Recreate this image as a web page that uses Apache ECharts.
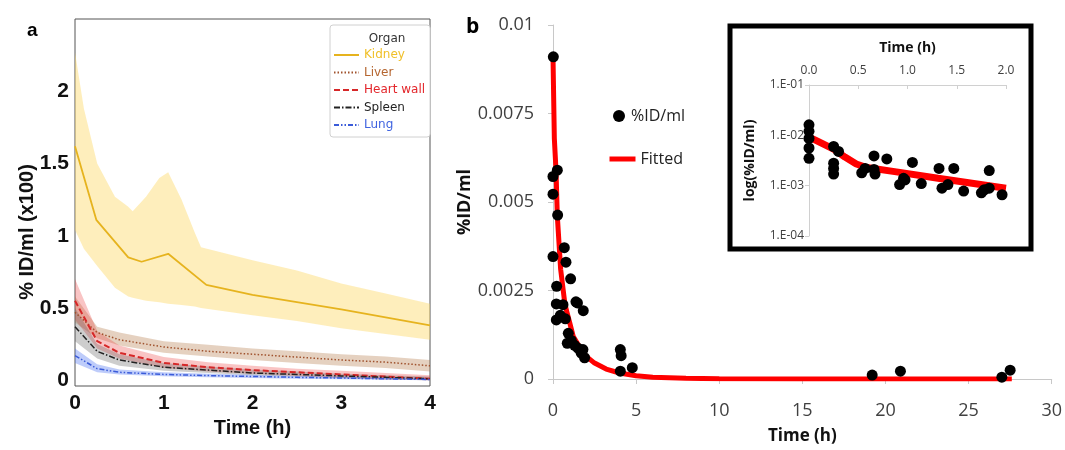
<!DOCTYPE html>
<html>
<head>
<meta charset="utf-8">
<script src="https://cdn.jsdelivr.net/npm/echarts@6/dist/echarts.min.js"></script>
<style>
  html, body { margin: 0; padding: 0; background: #fff; }
  #chart { width: 1065px; height: 450px; }
</style>
</head>
<body>
<div id="chart"></div>
<script>
// panel a - organ curves (time in h, %ID/ml x100)
var aTime = [0, 0.25, 0.5, 1, 1.5, 2, 2.5, 3, 3.5, 4];
var kidneyTime = [0, 0.24, 0.6, 0.75, 1.05, 1.48, 2, 2.5, 3, 3.5, 4];
var kidneyMean = [1.62, 1.11, 0.85, 0.82, 0.875, 0.66, 0.59, 0.54, 0.49, 0.435, 0.38];
var kidneyBandTime = [0, 0.1, 0.25, 0.45, 0.6, 0.65, 0.8, 0.95, 1.05, 1.2, 1.35, 1.42, 2, 2.5, 3, 3.5, 4];
var kidneyHi = [2.27, 1.88, 1.5, 1.27, 1.2, 1.17, 1.27, 1.4, 1.44, 1.25, 1.02, 0.92, 0.83, 0.76, 0.67, 0.6, 0.53];
var kidneyLo = [1.04, 0.91, 0.79, 0.64, 0.58, 0.57, 0.55, 0.54, 0.53, 0.52, 0.51, 0.5, 0.45, 0.41, 0.36, 0.32, 0.28];
var liverMean = [0.47, 0.33, 0.28, 0.23, 0.2, 0.18, 0.16, 0.14, 0.125, 0.1];
var liverLo = [0.4, 0.29, 0.24, 0.19, 0.165, 0.14, 0.12, 0.1, 0.085, 0.06];
var liverHi = [0.58, 0.37, 0.33, 0.27, 0.245, 0.22, 0.2, 0.18, 0.165, 0.14];
var heartMean = [0.55, 0.27, 0.19, 0.12, 0.09, 0.07, 0.055, 0.04, 0.025, 0.01];
var heartLo = [0.42, 0.22, 0.15, 0.085, 0.06, 0.045, 0.03, 0.015, 0.005, 0];
var heartHi = [0.7, 0.34, 0.24, 0.16, 0.125, 0.1, 0.08, 0.065, 0.05, 0.035];
var spleenMean = [0.37, 0.2, 0.14, 0.09, 0.07, 0.05, 0.04, 0.03, 0.02, 0.01];
var spleenLo = [0.27, 0.15, 0.1, 0.065, 0.05, 0.035, 0.025, 0.015, 0.005, 0];
var spleenHi = [0.5, 0.25, 0.18, 0.12, 0.095, 0.075, 0.06, 0.045, 0.035, 0.025];
var lungMean = [0.17, 0.08, 0.055, 0.04, 0.032, 0.026, 0.02, 0.015, 0.01, 0.005];
var lungLo = [0.12, 0.055, 0.04, 0.028, 0.02, 0.015, 0.01, 0.006, 0.003, 0];
var lungHi = [0.22, 0.11, 0.075, 0.055, 0.045, 0.038, 0.03, 0.025, 0.02, 0.015];

// panel b - measured points and fitted curve
var bTime = [0.02, 0, 0.26, 0, 0.28, 0, 0.68, 0.78, 1.06, 0.22, 1.38, 1.47, 1.82, 0.2, 0.6, 0.2, 0.44, 0.74,
  0.92, 0.86, 1.1, 1.3, 1.5, 1.8, 1.9, 1.7, 4.05, 4.1, 4.05, 4.77, 19.2, 20.9, 27.0, 27.5];
var bValue = [0.0091, 0.00572, 0.0059, 0.00522, 0.00463, 0.00346, 0.00371, 0.0033, 0.00283, 0.00262, 0.00218, 0.00215, 0.00193, 0.00212, 0.0021, 0.00167, 0.0018, 0.0017,
  0.00129, 0.00101, 0.00109, 0.00095, 0.00087, 0.00083, 0.0006, 0.00073, 0.00083, 0.00066, 0.00022, 0.00032, 0.00011, 0.00022, 0.00005, 0.00025];
var fitTime = [0, 0.08, 0.18, 0.26, 0.46, 0.72, 1.0, 1.22, 1.6, 2.0, 2.5, 3.2, 4, 5, 6, 8, 10, 15, 27.6];
var fitValue = [0.0091, 0.0068, 0.0059, 0.0046, 0.0031, 0.0021, 0.0016, 0.0012, 0.0009, 0.00064, 0.00045, 0.00028, 0.00017, 0.00009, 0.00005, 0.00002, 0.00001, 0, 0];

// inset - first 2 h on log scale
var insetTime = [0, 0, 0, 0, 0, 0.25, 0.3, 0.25, 0.25, 0.25, 0.535, 0.57, 0.66, 0.67, 0.66, 0.79, 0.92, 0.975, 0.96,
  1.05, 1.14, 1.32, 1.35, 1.41, 1.47, 1.57, 1.75, 1.78, 1.83, 1.83, 1.96];
var insetValue = [0.0162, 0.012, 0.0087, 0.0056, 0.0035, 0.006, 0.0048, 0.0028, 0.0022, 0.0017, 0.0018, 0.0022, 0.0039, 0.0017, 0.0021, 0.0034, 0.00105, 0.0013, 0.0014,
  0.0029, 0.0011, 0.0022, 0.00089, 0.00105, 0.0022, 0.00078, 0.00072, 0.00083, 0.002, 0.00089, 0.00066];
var insetFitTime = [0, 0.06, 0.25, 0.365, 0.48, 0.585, 0.87, 1.31, 2.0];
var insetFitValue = [0.0092, 0.0081, 0.0053, 0.0037, 0.0027, 0.0023, 0.0019, 0.0014, 0.00089];

function pairs(xs, ys) {
  return xs.map(function (x, i) { return [x, ys[i]]; });
}
function triples(xs, lo, hi) {
  return xs.map(function (x, i) { return [x, lo[i], hi[i]]; });
}

// shaded band between lo and hi, drawn as one polygon through the axis scales
function bandRenderer(fill) {
  return function (params, api) {
    if (params.dataIndex !== 0) return null;
    var n = params.dataInsideLength;
    var top = [], bottom = [];
    for (var i = 0; i < n; i++) {
      top.push(api.coord([api.value(0, i), api.value(2, i)]));
      bottom.unshift(api.coord([api.value(0, i), api.value(1, i)]));
    }
    return { type: 'polygon', shape: { points: top.concat(bottom) }, style: { fill: fill }, silent: true };
  };
}

var chart = echarts.init(document.getElementById('chart'));
var fontA = '"Liberation Sans", Arial, sans-serif';
var fontB = '"Open Sans", "Liberation Sans", sans-serif';

var organs = [
  { name: 'Kidney', time: kidneyTime, mean: kidneyMean, bandTime: kidneyBandTime, lo: kidneyLo, hi: kidneyHi,
    color: '#e6b31e', text: '#f0c02a', band: 'rgba(252,214,95,0.42)', type: 'solid', width: 1.8 },
  { name: 'Liver', time: aTime, mean: liverMean, bandTime: aTime, lo: liverLo, hi: liverHi,
    color: '#a0522d', text: '#b5652f', band: 'rgba(175,115,65,0.33)', type: [1.5, 2], width: 1.5 },
  { name: 'Heart wall', time: aTime, mean: heartMean, bandTime: aTime, lo: heartLo, hi: heartHi,
    color: '#d62728', text: '#e3262b', band: 'rgba(235,60,60,0.3)', type: [6, 3], width: 2 },
  { name: 'Spleen', time: aTime, mean: spleenMean, bandTime: aTime, lo: spleenLo, hi: spleenHi,
    color: '#222222', text: '#222222', band: 'rgba(90,90,90,0.3)', type: [6, 2, 1.5, 2], width: 1.5 },
  { name: 'Lung', time: aTime, mean: lungMean, bandTime: aTime, lo: lungLo, hi: lungHi,
    color: '#3a5bd9', text: '#3f63e0', band: 'rgba(70,110,240,0.35)', type: [5, 2, 1.5, 2, 1.5, 2], width: 1.5 }
];

var series = [];
organs.forEach(function (o) {
  series.push({
    name: o.name + ' band', type: 'custom', xAxisIndex: 0, yAxisIndex: 0,
    data: triples(o.bandTime, o.lo, o.hi), encode: { x: 0, y: [1, 2] },
    renderItem: bandRenderer(o.band), silent: true, z: 1
  });
});
organs.forEach(function (o) {
  series.push({
    name: o.name, type: 'line', xAxisIndex: 0, yAxisIndex: 0,
    data: pairs(o.time, o.mean), symbol: 'none', color: o.color,
    lineStyle: { color: o.color, width: o.width, type: o.type }, z: 3
  });
});

series.push({
  name: 'Fitted', type: 'line', xAxisIndex: 1, yAxisIndex: 1,
  data: pairs(fitTime, fitValue), symbol: 'none', color: '#ff0000',
  lineStyle: { color: '#ff0000', width: 5 }, z: 2
});
series.push({
  name: '%ID/ml', type: 'scatter', xAxisIndex: 1, yAxisIndex: 1,
  data: pairs(bTime, bValue), symbolSize: 11, itemStyle: { color: '#000', opacity: 1 }, z: 3
});
series.push({
  name: 'inset fit', type: 'line', xAxisIndex: 2, yAxisIndex: 2,
  data: pairs(insetFitTime, insetFitValue), symbol: 'none', color: '#ff0000',
  lineStyle: { color: '#ff0000', width: 7 }, z: 2
});
series.push({
  name: 'inset points', type: 'scatter', xAxisIndex: 2, yAxisIndex: 2,
  data: pairs(insetTime, insetValue), symbolSize: 11, itemStyle: { color: '#000', opacity: 1 }, z: 3
});

var option = {
  animation: false,
  backgroundColor: '#fff',
  title: [
    { text: 'Organ', left: 382, top: 28, textAlign: 'center',
      textStyle: { fontFamily: '"DejaVu Sans", sans-serif', fontSize: 12, fontWeight: 'normal', color: '#333' }, z: 10 }
  ],
  legend: [
    {
      data: organs.map(function (o) { return { name: o.name, textStyle: { color: o.text } }; }),
      orient: 'vertical', left: 330, top: 25, padding: [24, 5, 6, 3],
      itemWidth: 25, itemHeight: 10, itemGap: 5.5,
      itemStyle: { opacity: 0 },
      backgroundColor: '#fff', borderColor: '#d0d0d0', borderWidth: 1, borderRadius: 3,
      textStyle: { fontFamily: '"DejaVu Sans", sans-serif', fontSize: 12 },
      selectedMode: false
    },
    {
      data: ['%ID/ml'], left: 608, top: 103, itemWidth: 14, itemHeight: 12,
      textStyle: { fontFamily: fontB, fontSize: 16, color: '#222' }, selectedMode: false
    },
    {
      data: ['Fitted'], left: 602, top: 146, itemWidth: 26, itemHeight: 16,
      itemStyle: { opacity: 0 }, lineStyle: { width: 5 },
      textStyle: { fontFamily: fontB, fontSize: 16, color: '#222' }, selectedMode: false
    }
  ],
  grid: [
    { left: 75, right: 635, top: 19, bottom: 64, show: true, borderColor: '#555', borderWidth: 1 },
    { left: 553, right: 11, top: 25, bottom: 67 },
    { left: 809, right: 59, top: 85, bottom: 214 }
  ],
  xAxis: [
    {
      gridIndex: 0, type: 'value', min: 0, max: 4, interval: 1,
      name: 'Time (h)', nameLocation: 'middle', nameGap: 30,
      nameTextStyle: { fontFamily: fontA, fontSize: 20, fontWeight: 'bold', color: '#111' },
      axisLine: { show: false }, axisTick: { show: false }, splitLine: { show: false },
      axisLabel: { margin: 7, fontFamily: fontA, fontSize: 21, fontWeight: 'bold', color: '#111' }
    },
    {
      gridIndex: 1, type: 'value', min: 0, max: 30, interval: 5,
      name: 'Time (h)', nameLocation: 'middle', nameGap: 49,
      nameTextStyle: { fontFamily: fontB, fontSize: 17, fontWeight: 'bold', color: '#111' },
      axisLine: { lineStyle: { color: '#c8c8c8', width: 1 } },
      axisTick: { length: 5, lineStyle: { color: '#c8c8c8' } }, splitLine: { show: false },
      axisLabel: { margin: 23, fontFamily: fontB, fontSize: 18, color: '#404040' }
    },
    {
      gridIndex: 2, type: 'value', min: 0, max: 2, interval: 0.5, position: 'top',
      name: 'Time (h)', nameLocation: 'middle', nameGap: 30,
      nameTextStyle: { fontFamily: fontB, fontSize: 14, fontWeight: 'bold', color: '#111' },
      axisLine: { lineStyle: { color: '#d0d0d0', width: 1 } },
      axisTick: { inside: true, length: 4, lineStyle: { color: '#d0d0d0' } }, splitLine: { show: false },
      axisLabel: { margin: 8, fontFamily: fontB, fontSize: 12, color: '#404040',
        formatter: function (v) { return v.toFixed(1); } }
    }
  ],
  yAxis: [
    {
      gridIndex: 0, type: 'value', min: -0.04, max: 2.5,
      axisLine: { show: false }, axisTick: { show: false }, splitLine: { show: false },
      axisLabel: {
        margin: 6, fontFamily: fontA, fontSize: 21, fontWeight: 'bold', color: '#111',
        formatter: function (v) {
          var r = Math.round(v * 10) / 10;
          if (Math.abs(v - r) > 1e-6 || r < 0 || r > 2.2 || Math.abs(r * 2 - Math.round(r * 2)) > 1e-6) return '';
          return String(r);
        }
      }
    },
    {
      gridIndex: 1, type: 'value', min: 0, max: 0.01, interval: 0.0025,
      name: '%ID/ml', nameLocation: 'middle', nameGap: 76,
      nameTextStyle: { fontFamily: fontB, fontSize: 18, fontWeight: 'bold', color: '#111' },
      axisLine: { show: true, lineStyle: { color: '#c8c8c8', width: 1 } },
      axisTick: { show: true, length: 5, lineStyle: { color: '#c8c8c8' } }, splitLine: { show: false },
      axisLabel: { margin: 19, fontFamily: fontB, fontSize: 18, color: '#404040' }
    },
    {
      gridIndex: 2, type: 'log', logBase: 10, min: 0.0001, max: 0.1,
      name: 'log(%ID/ml)', nameLocation: 'middle', nameGap: 52,
      nameTextStyle: { fontFamily: fontB, fontSize: 14, fontWeight: 'bold', color: '#111' },
      axisLine: { show: true, lineStyle: { color: '#d0d0d0', width: 1 } },
      axisTick: { show: true, length: 4, lineStyle: { color: '#d0d0d0' } }, splitLine: { show: false },
      minorTick: { show: false },
      axisLabel: { margin: 5, fontFamily: fontB, fontSize: 12, color: '#404040',
        formatter: function (v) { return '1.E-0' + Math.round(-Math.log10(v)); } }
    }
  ],
  graphic: [
    { type: 'text', left: 27, top: 21, style: { text: 'a', font: 'bold 19px ' + fontA, fill: '#000' } },
    { type: 'text', left: 466, top: 17, style: { text: 'b', font: 'bold 21px ' + fontB, fill: '#000' } },
    { type: 'text', x: 27, y: 232, rotation: Math.PI / 2,
      style: { text: '% ID/ml (x100)', font: 'bold 20px ' + fontA, fill: '#111', align: 'center', verticalAlign: 'middle' } },
    { type: 'rect', shape: { x: 730, y: 26, width: 301, height: 223 },
      style: { fill: 'none', stroke: '#000', lineWidth: 5 }, z: 5 }
  ],
  series: series
};

chart.setOption(option);
</script>
</body>
</html>
